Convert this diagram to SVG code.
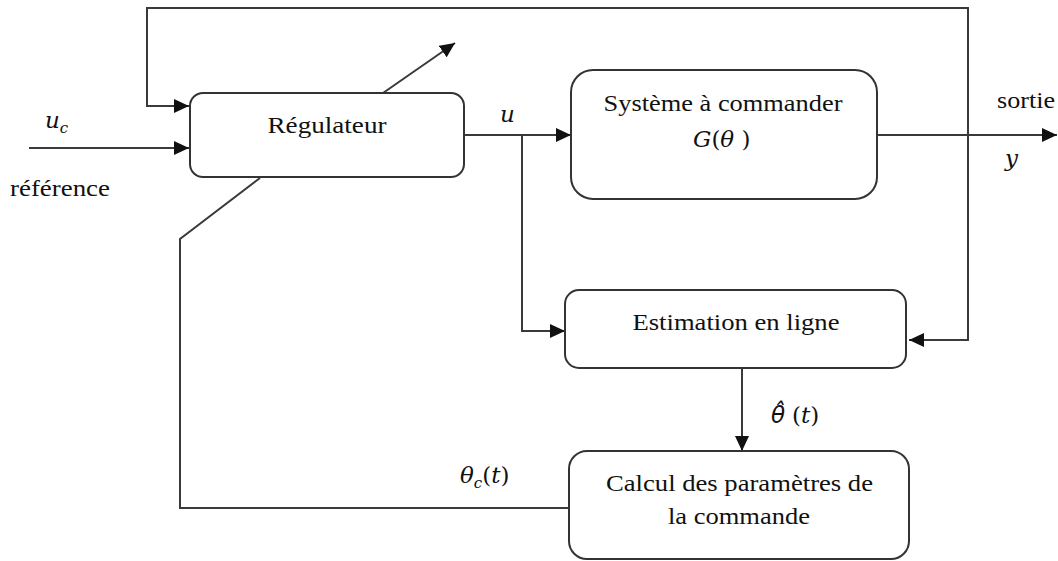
<svg xmlns="http://www.w3.org/2000/svg" width="1058" height="561" viewBox="0 0 1058 561">
<style>
.box{fill:#fff;stroke:#333;stroke-width:2}
.ln{fill:none;stroke:#3a3a3a;stroke-width:2}
.t{font-family:"Liberation Serif","Times New Roman",serif;font-size:24px;fill:#111}
.m{font-family:"DejaVu Serif",serif;font-size:23px;fill:#111}
.i{font-style:italic}
.s{font-size:15px}
</style>
<defs>
<marker id="ah" markerUnits="userSpaceOnUse" markerWidth="15" markerHeight="14" refX="15" refY="7" orient="auto">
<path d="M0,0 L15,7 L0,14 z" fill="#111"/>
</marker>
</defs>
<rect width="1058" height="561" fill="#fff"/>
<g id="connectors">
<path class="ln" d="M29,148 H189" marker-end="url(#ah)"/>
<path class="ln" d="M968,135 V8 H147 V106 H189" marker-end="url(#ah)"/>
<path class="ln" d="M383,93 L455,43" marker-end="url(#ah)"/>
<path class="ln" d="M464,135 H571" marker-end="url(#ah)"/>
<path class="ln" d="M522,135 V331 H565" marker-end="url(#ah)"/>
<path class="ln" d="M877,135 H1057" marker-end="url(#ah)"/>
<path class="ln" d="M968,135 V340 H909" marker-end="url(#ah)"/>
<path class="ln" d="M742,368 V451" marker-end="url(#ah)"/>
<path class="ln" d="M569,508 H180 V239 L260,178"/>
</g>
<g id="regulateur">
<rect class="box" x="190" y="93" width="274" height="84" rx="13"/>
<text class="t" x="327" y="133" text-anchor="middle" textLength="119" lengthAdjust="spacingAndGlyphs">Régulateur</text>
</g>
<g id="systeme">
<rect class="box" x="571" y="70" width="306" height="129" rx="22"/>
<text class="t" x="723" y="111" text-anchor="middle" textLength="239" lengthAdjust="spacingAndGlyphs">Système à commander</text>
<text class="m" x="693" y="147"><tspan class="i">G</tspan>(<tspan class="i">θ</tspan> )</text>
</g>
<g id="estimation">
<rect class="box" x="565" y="290" width="341" height="78" rx="14"/>
<text class="t" x="736" y="330" text-anchor="middle" textLength="207" lengthAdjust="spacingAndGlyphs">Estimation en ligne</text>
</g>
<g id="calcul">
<rect class="box" x="569" y="451" width="340" height="108" rx="18"/>
<text class="t" x="739.5" y="491" text-anchor="middle" textLength="267" lengthAdjust="spacingAndGlyphs">Calcul des paramètres de</text>
<text class="t" x="739" y="524" text-anchor="middle" textLength="142" lengthAdjust="spacingAndGlyphs">la commande</text>
</g>
<g id="labels">
<text class="m" x="45" y="128"><tspan class="i">u</tspan><tspan class="i s" dy="5">c</tspan></text>
<text class="t" x="10" y="196" textLength="100" lengthAdjust="spacingAndGlyphs">référence</text>
<text class="m i" x="500" y="122">u</text>
<text class="t" x="997" y="108" textLength="58" lengthAdjust="spacingAndGlyphs">sortie</text>
<text class="m i" x="1005" y="166">y</text>
<text x="771" y="423" style="font-family:'DejaVu Sans',sans-serif;font-style:italic;font-size:23px;fill:#111">θ&#x302;</text>
<text class="m" x="792" y="423">(<tspan class="i">t</tspan>)</text>
<text class="m" x="460" y="483"><tspan class="i">θ</tspan><tspan class="i s" dy="5">c</tspan><tspan dy="-5">(</tspan><tspan class="i">t</tspan>)</text>
</g>
</svg>
